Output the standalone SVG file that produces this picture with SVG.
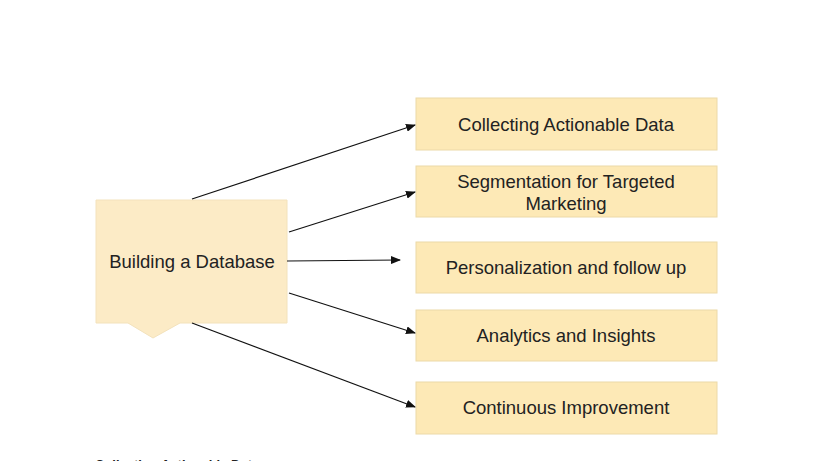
<svg xmlns="http://www.w3.org/2000/svg" width="816" height="461" viewBox="0 0 816 461">
<style>
text{font-family:"Liberation Sans",Arial,sans-serif;font-size:18.5px;fill:#222;text-anchor:middle}
.b{fill:#fde9b6;stroke:#ecd9a8;stroke-width:1}
.c line{stroke:#111;stroke-width:1.2;marker-end:url(#a)}
</style>
<defs><marker id="a" markerWidth="10" markerHeight="8" refX="9" refY="4" orient="auto" markerUnits="userSpaceOnUse"><path d="M0,0L10,4L0,8z" fill="#111"/></marker></defs>
<rect width="816" height="461" fill="#fff"/>
<g id="n0"><path d="M96,200H287V323H180L153,338L128,323H96Z" fill="#fcebc6" stroke="#f3e2bc"/><text x="192" y="268">Building a Database</text></g>
<g id="n1"><rect class="b" x="416" y="98" width="301" height="52"/><text x="566" y="131">Collecting Actionable Data</text></g>
<g id="n2"><rect class="b" x="416" y="166" width="301" height="51"/><text x="566" y="188">Segmentation for Targeted</text><text x="566" y="210">Marketing</text></g>
<g id="n3"><rect class="b" x="416" y="242" width="301" height="51"/><text x="566" y="274">Personalization and follow up</text></g>
<g id="n4"><rect class="b" x="416" y="310" width="301" height="51"/><text x="566" y="342">Analytics and Insights</text></g>
<g id="n5"><rect class="b" x="416" y="382" width="301" height="52"/><text x="566" y="414">Continuous Improvement</text></g>
<g class="c" id="edges">
<line x1="192" y1="199" x2="415" y2="125"/>
<line x1="289" y1="232" x2="415" y2="192"/>
<line x1="287" y1="261" x2="400" y2="260"/>
<line x1="289" y1="293" x2="415" y2="333"/>
<line x1="192" y1="323" x2="415" y2="407"/>
</g>
<text x="95" y="469" style="font-size:13px;font-weight:bold;text-anchor:start">Collecting Actionable Data</text>
</svg>
